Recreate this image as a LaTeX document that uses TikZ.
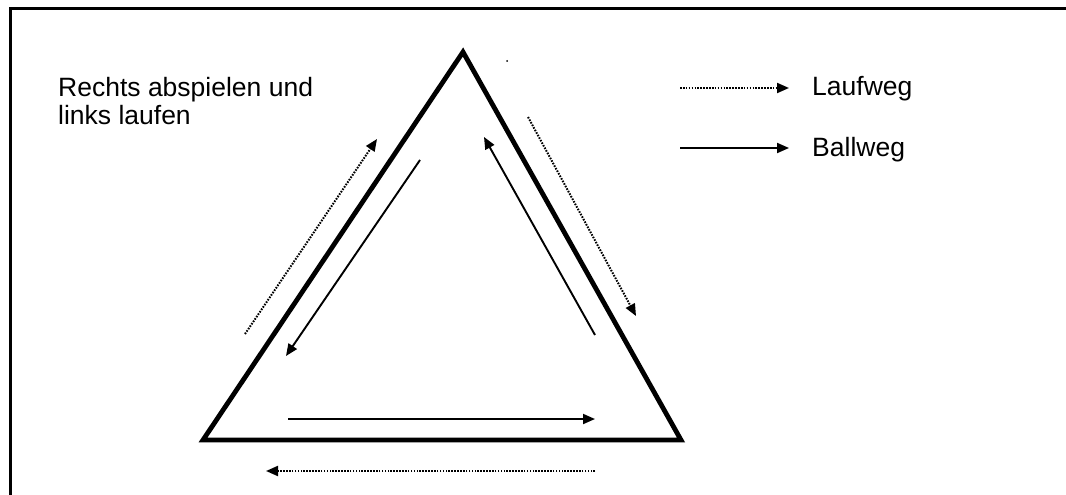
\documentclass[tikz,border=0pt]{standalone}
\usepackage{fontspec}
\setmainfont{Liberation Sans}
\usetikzlibrary{arrows.meta}

\begin{document}
\begin{tikzpicture}[x=1pt,y=-1pt,font=\fontsize{26.5}{28}\selectfont,
  >={Triangle[length=12pt,width=10pt]},
  feld/.style={line width=4.8pt,line join=miter},
  ballweg/.style={->,line width=1.9pt},
  laufweg/.style={->,line width=2pt,dash pattern=on 1.6pt off 1.3pt}]
  \useasboundingbox (0,0) rectangle (1066,495);
  \draw[line width=3pt] (10,495) -- (10,9) -- (1066,9);
  % triangle
  \coordinate (top) at (463,52);
  \coordinate (bl) at (203,440);
  \coordinate (br) at (681,440);
  \draw[feld] (top) -- (br) -- (bl) -- cycle;
  \fill (507,61) circle (1pt);
  % paths inside and outside
  \coordinate (la) at (245,334); \coordinate (lb) at (377,139);
  \coordinate (ra) at (528,117); \coordinate (rb) at (636,316);
  \coordinate (ua) at (595,471); \coordinate (ub) at (266,471);
  \coordinate (ia) at (420,160); \coordinate (ib) at (286,356);
  \coordinate (ja) at (595,335); \coordinate (jb) at (484,137);
  \coordinate (ka) at (288,419); \coordinate (kb) at (595,419);
  \draw[laufweg] (la) -- (lb);
  \draw[laufweg] (ra) -- (rb);
  \draw[laufweg] (ua) -- (ub);
  \draw[ballweg] (ia) -- (ib);
  \draw[ballweg] (ja) -- (jb);
  \draw[ballweg] (ka) -- (kb);
  % legend
  \node[anchor=north west,inner sep=0pt,align=left] (titel) at (58,77)
    {Rechts abspielen und\\links laufen};
  \node[anchor=west,inner sep=0pt] (lauf) at (812,89) {Laufweg};
  \node[anchor=west,inner sep=0pt] (ball) at (812,150) {Ballweg};
  \coordinate (l1) at (680,88); \coordinate (l2) at (789,88);
  \coordinate (b1) at (680,148); \coordinate (b2) at (789,148);
  \draw[laufweg] (l1) -- (l2);
  \draw[ballweg] (b1) -- (b2);
\end{tikzpicture}
\end{document}
